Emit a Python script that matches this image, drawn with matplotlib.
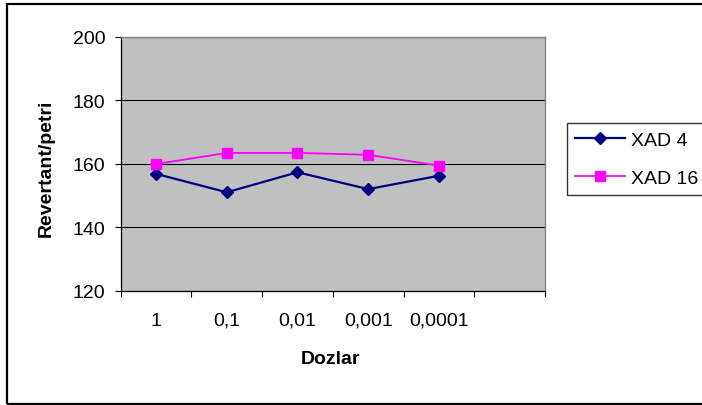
import matplotlib
matplotlib.use("Agg")
import matplotlib.pyplot as plt
from matplotlib.patches import Rectangle

plt.rcParams['font.family'] = ['Liberation Sans', 'DejaVu Sans']

categories = ['1', '0,1', '0,01', '0,001', '0,0001']
n_slots = 6
xad4 = [156.8, 151.0, 157.3, 152.0, 156.2]
xad16 = [159.9, 163.4, 163.4, 162.8, 159.4]
y_ticks = [120, 140, 160, 180, 200]

W, H = 702, 406
fig = plt.figure(figsize=(W / 100, H / 100), dpi=100)
fig.patch.set_facecolor('white')

# outer chart border (right side cut off)
fig.add_artist(Rectangle((7 / W, 1.5 / H), 1.2, (401.5 - 1.5) / H,
                         transform=fig.transFigure, fill=False,
                         edgecolor='black', linewidth=1.6, zorder=0))

left, right, top, bottom = 120.7, 545, 37.7, 291.7
ax = fig.add_axes([left / W, 1 - bottom / H, (right - left) / W, (bottom - top) / H])
ax.set_facecolor('#C0C0C0')

x = list(range(len(categories)))
ax.plot(x, xad4, color='#000080', linewidth=1.6, marker='D', markersize=6.3,
        markerfacecolor='#000080', markeredgecolor='#000080', label='XAD 4', zorder=3)
ax.plot(x, xad16, color='#FF00FF', linewidth=1.3, marker='s', markersize=7.2,
        markerfacecolor='#FF00FF', markeredgecolor='#FF00FF', label='XAD 16', zorder=3)

ax.set_xlim(-0.5, n_slots - 0.5)
ax.set_ylim(y_ticks[0], y_ticks[-1])
ax.set_yticks(y_ticks)
ax.set_yticklabels([str(v) for v in y_ticks], fontsize=14)
ax.yaxis.grid(True, color='black', linewidth=0.8)
ax.set_axisbelow(True)

ax.set_xticks([i - 0.5 for i in range(n_slots + 1)])
ax.set_xticklabels([''] * (n_slots + 1))
ax.set_xticks(x, categories, minor=True)
ax.tick_params(axis='x', which='minor', length=0, pad=15, labelsize=14)
ax.tick_params(axis='x', which='major', direction='out', length=4.5, width=0.8, color='black')
ax.tick_params(axis='y', direction='out', length=4.5, width=0.8, pad=6.5, color='black')

for s in ['top', 'right']:
    ax.spines[s].set_color('#808080')
    ax.spines[s].set_linewidth(1.0)
for s in ['left', 'bottom']:
    ax.spines[s].set_color('black')
    ax.spines[s].set_linewidth(0.9)

fig.text(330 / W, 1 - 360 / H, 'Dozlar', fontsize=14, fontweight='bold',
         ha='center', va='center')
fig.text(46 / W, 1 - 168 / H, 'Revertant/petri', fontsize=14, fontweight='bold',
         ha='center', va='center', rotation=90)

leg = fig.legend(loc='upper left', bbox_to_anchor=(566.7 / W, 1 - 124 / H),
                 bbox_transform=fig.transFigure, fontsize=14, frameon=True,
                 fancybox=False, edgecolor='black', borderpad=0.42,
                 labelspacing=1.05, handlelength=2.6, handletextpad=0.3,
                 borderaxespad=0)
leg.get_frame().set_linewidth(1.0)

fig.savefig('out.png', dpi=100)
